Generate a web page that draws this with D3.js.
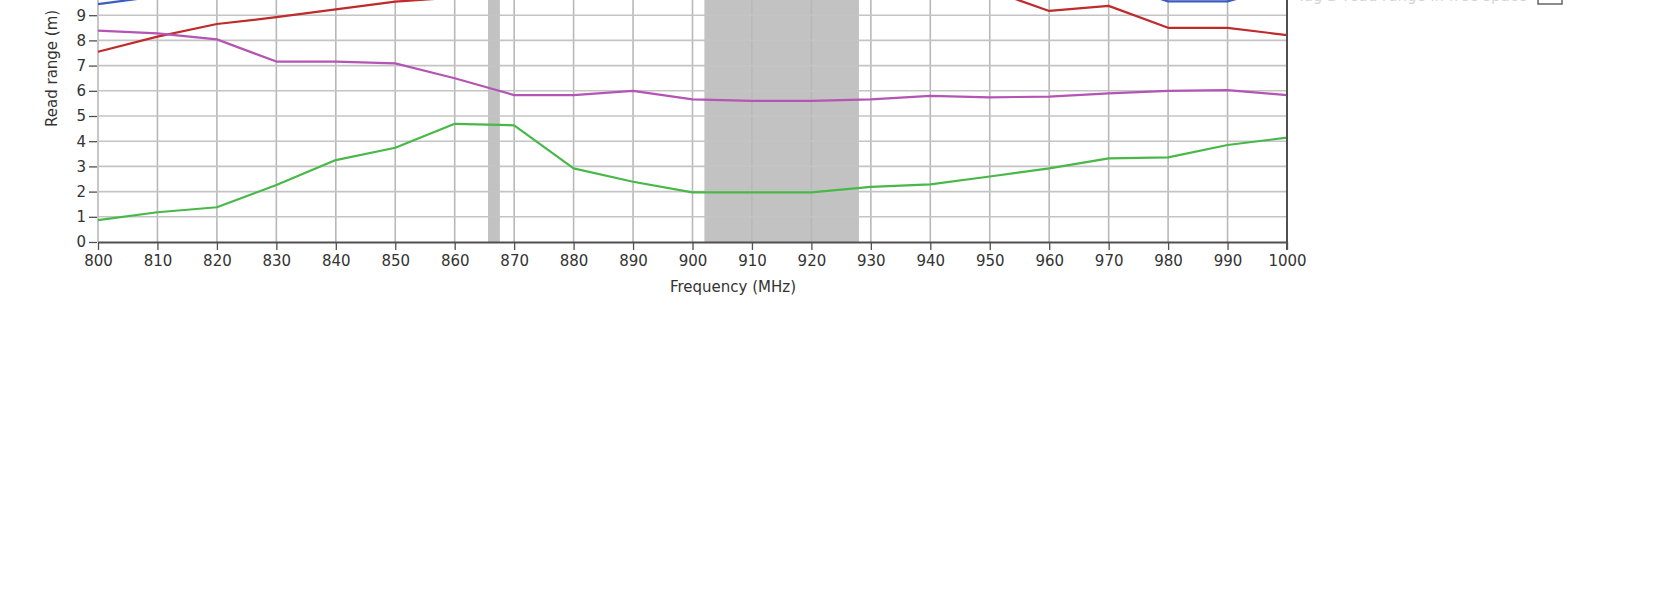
<!DOCTYPE html>
<html>
<head>
<meta charset="utf-8">
<script src="https://cdn.jsdelivr.net/npm/d3@7"></script>
<style>
  body { margin: 0; background: #fff; }
  text { font-family: "DejaVu Sans", sans-serif; }
</style>
</head>
<body>
<div id="chart"></div>
<script>
// data (MHz, metres)
var freqs = [800, 810, 820, 830, 840, 850, 860, 870, 880, 890, 900,
             910, 920, 930, 940, 950, 960, 970, 980, 990, 1000];
var blueRange    = [9.44, 9.75, 10.0, 10.2, 10.4, 10.5, 10.6, 10.7, 10.8, 10.8, 10.9,
                    10.9, 10.9, 10.8, 10.8, 10.7, 10.6, 10.3, 9.55, 9.55, 10.2];
var redRange     = [7.55, 8.15, 8.65, 8.92, 9.23, 9.54, 9.7, 9.9, 10.1, 10.3, 10.4,
                    10.45, 10.45, 10.4, 10.25, 10.0, 9.17, 9.37, 8.5, 8.5, 8.21];
var magentaRange = [8.39, 8.28, 8.04, 7.16, 7.16, 7.09, 6.5, 5.83, 5.83, 6.0, 5.66,
                    5.6, 5.6, 5.66, 5.8, 5.74, 5.77, 5.9, 6.0, 6.03, 5.83];
var greenRange   = [0.87, 1.18, 1.38, 2.26, 3.25, 3.74, 4.69, 4.63, 2.92, 2.39, 1.97,
                    1.97, 1.97, 2.19, 2.29, 2.6, 2.92, 3.32, 3.36, 3.85, 4.14];
var seriesColors = ["#3b5cc0", "#bf2b2b", "#b454b4", "#48b848"];
var legendLabel  = "Tag D read range in free space";
// regulatory bands (MHz)
var bands = [[865.6, 867.6], [902, 928]];
var xTicks = d3.range(800, 1001, 10);
var yTicks = d3.range(0, 10, 1);
var yGrid  = d3.range(1, 12, 1);

var width = 1680, height = 610;

var svg = d3.select("#chart")
  .append("svg")
    .attr("width", width)
    .attr("height", height);

// plot area sits partly above the window, as in the picture
var x = d3.scaleLinear().domain([800, 1000]).range([98, 1287]);
var y = d3.scaleLinear().domain([0, 12]).range([242, 242 - 12 * 25.2]);

// shaded bands
svg.selectAll("rect.band")
  .data(bands)
  .enter()
  .append("rect")
    .attr("class", "band")
    .attr("x", function(d) { return x(d[0]); })
    .attr("width", function(d) { return x(d[1]) - x(d[0]); })
    .attr("y", y(12))
    .attr("height", y(0) - y(12))
    .attr("fill", "#c2c2c2");

// grid
svg.append("g")
  .selectAll("line")
  .data(xTicks)
  .enter()
  .append("line")
    .attr("x1", function(d) { return x(d); })
    .attr("x2", function(d) { return x(d); })
    .attr("y1", y(12))
    .attr("y2", y(0))
    .attr("stroke", "#b8b8b8")
    .attr("stroke-width", 1.6);

svg.append("g")
  .selectAll("line")
  .data(yGrid)
  .enter()
  .append("line")
    .attr("x1", x(800))
    .attr("x2", x(1000))
    .attr("y1", function(d) { return y(d); })
    .attr("y2", function(d) { return y(d); })
    .attr("stroke", "#c4c4c4")
    .attr("stroke-width", 1.6);

// lines
var allSeries = [blueRange, redRange, magentaRange, greenRange];
var line = d3.line()
  .x(function(d, i) { return x(freqs[i]); })
  .y(function(d) { return y(d); });

svg.append("g")
  .selectAll("path")
  .data(allSeries)
  .enter()
  .append("path")
    .attr("d", line)
    .attr("fill", "none")
    .attr("stroke", function(d, i) { return seriesColors[i]; })
    .attr("stroke-width", 2.2)
    .attr("stroke-linejoin", "round");

// x axis
var xAxis = svg.append("g")
  .attr("transform", "translate(0," + y(0) + ")")
  .call(d3.axisBottom(x).tickValues(xTicks).tickFormat(d3.format("d")).tickSize(8).tickSizeOuter(0));
xAxis.select(".domain").attr("stroke", "#505050").attr("stroke-width", 2);
xAxis.selectAll(".tick line").attr("stroke", "#505050").attr("stroke-width", 1.3);
xAxis.selectAll(".tick text")
  .attr("y", 13)
  .attr("fill", "#333")
  .style("font-size", "15px")
  .style("font-family", "DejaVu Sans");

// y axis (ticks only, the 800 grid line acts as the axis)
var yAxis = svg.append("g")
  .attr("transform", "translate(" + (x(800) - 1) + ",0)")
  .call(d3.axisLeft(y).tickValues(yTicks).tickFormat(d3.format("d")).tickSize(8).tickSizeOuter(0));
yAxis.select(".domain").remove();
yAxis.selectAll(".tick line").attr("stroke", "#505050").attr("stroke-width", 1.3);
yAxis.selectAll(".tick text")
  .attr("x", -11)
  .attr("fill", "#333")
  .style("font-size", "15px")
  .style("font-family", "DejaVu Sans");

// right border
svg.append("line")
  .attr("x1", x(1000)).attr("x2", x(1000))
  .attr("y1", y(12)).attr("y2", y(0) + 8)
  .attr("stroke", "#505050")
  .attr("stroke-width", 2);

// axis titles
svg.append("text")
  .attr("x", 733)
  .attr("y", 292)
  .attr("text-anchor", "middle")
  .attr("fill", "#333")
  .style("font-size", "15px")
  .text("Frequency (MHz)");

svg.append("text")
  .attr("transform", "rotate(-90)")
  .attr("x", -127)
  .attr("y", 57)
  .attr("text-anchor", "start")
  .attr("fill", "#333")
  .style("font-size", "15px")
  .text("Read range (m)");

// legend row, cut by the top of the window
var legend = svg.append("g").attr("transform", "translate(1297,0)");
legend.append("text")
  .attr("x", 0)
  .attr("y", 1)
  .attr("fill", "#d4d4d4")
  .style("font-size", "15px")
  .text(legendLabel);
legend.append("rect")
  .attr("x", 241)
  .attr("y", -16)
  .attr("width", 24)
  .attr("height", 20)
  .attr("fill", "none")
  .attr("stroke", "#666")
  .attr("stroke-width", 1.5);
</script>
</body>
</html>
